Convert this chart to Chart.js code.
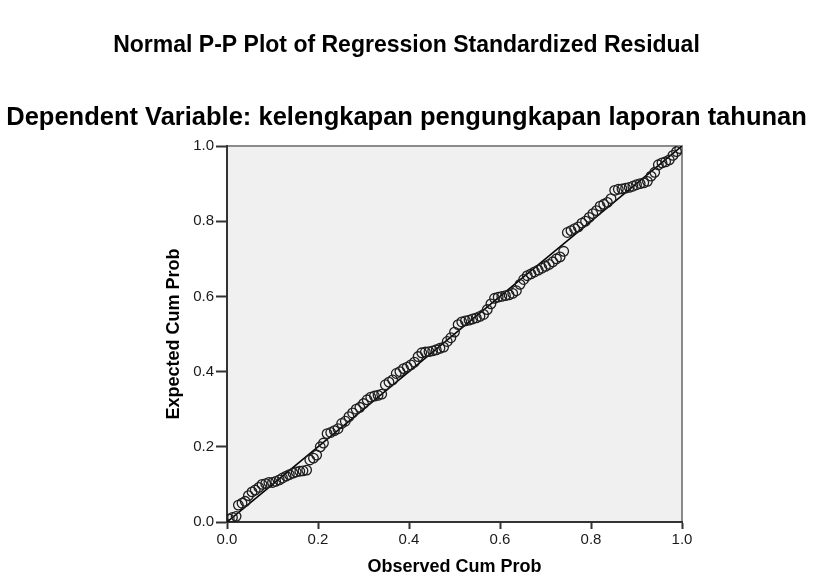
<!DOCTYPE html>
<html>
<head>
<meta charset="utf-8">
<script src="https://cdn.jsdelivr.net/npm/chart.js@4.4.1/dist/chart.umd.min.js"></script>
<style>
    html, body { margin: 0; padding: 0; background: #fff; }
</style>
</head>
<body>
<canvas id="graficoPP" width="813" height="579"></canvas>
<script>
// Observed vs expected cumulative probabilities
const observed = [
    0.005, 0.012, 0.020, 0.025, 0.033, 0.040, 0.047, 0.055, 0.062, 0.070,
    0.077, 0.085, 0.092, 0.100, 0.107, 0.115, 0.122, 0.130, 0.137, 0.145,
    0.152, 0.160, 0.167, 0.175, 0.182, 0.190, 0.197, 0.205, 0.212, 0.220,
    0.228, 0.236, 0.244, 0.252, 0.260, 0.268, 0.276, 0.284, 0.292, 0.300,
    0.308, 0.316, 0.324, 0.332, 0.340, 0.348, 0.356, 0.364, 0.372, 0.380,
    0.388, 0.396, 0.404, 0.412, 0.420, 0.428, 0.436, 0.444, 0.452, 0.460,
    0.468, 0.476, 0.484, 0.492, 0.500, 0.508, 0.516, 0.524, 0.532, 0.540,
    0.548, 0.556, 0.564, 0.572, 0.580, 0.588, 0.596, 0.604, 0.612, 0.620,
    0.628, 0.636, 0.644, 0.652, 0.660, 0.668, 0.676, 0.684, 0.692, 0.700,
    0.708, 0.716, 0.724, 0.732, 0.740, 0.748, 0.756, 0.764, 0.772, 0.780,
    0.788, 0.796, 0.804, 0.812, 0.820, 0.828, 0.836, 0.844, 0.852, 0.860,
    0.868, 0.876, 0.884, 0.892, 0.900, 0.908, 0.916, 0.924, 0.932, 0.940,
    0.948, 0.956, 0.964, 0.972, 0.980, 0.988, 0.995
];
const expected = [
    0.008, 0.012, 0.015, 0.045, 0.050, 0.055, 0.070, 0.080, 0.085, 0.092,
    0.100, 0.102, 0.105, 0.105, 0.108, 0.112, 0.117, 0.122, 0.126, 0.130,
    0.133, 0.135, 0.136, 0.138, 0.165, 0.170, 0.178, 0.200, 0.210, 0.235,
    0.238, 0.243, 0.248, 0.262, 0.268, 0.280, 0.290, 0.300, 0.305, 0.315,
    0.325, 0.332, 0.335, 0.337, 0.340, 0.365, 0.372, 0.378, 0.395, 0.400,
    0.408, 0.412, 0.418, 0.425, 0.440, 0.450, 0.452, 0.453, 0.455, 0.458,
    0.462, 0.465, 0.480, 0.490, 0.505, 0.525, 0.532, 0.535, 0.537, 0.540,
    0.543, 0.547, 0.552, 0.565, 0.580, 0.595, 0.598, 0.600, 0.602, 0.604,
    0.608, 0.615, 0.632, 0.645, 0.655, 0.660, 0.665, 0.670, 0.675, 0.680,
    0.685, 0.692, 0.700, 0.705, 0.720, 0.770, 0.775, 0.780, 0.785, 0.795,
    0.800, 0.810, 0.820, 0.828, 0.840, 0.845, 0.850, 0.860, 0.882, 0.885,
    0.886, 0.888, 0.890, 0.893, 0.897, 0.900, 0.902, 0.906, 0.920, 0.930,
    0.950, 0.955, 0.958, 0.963, 0.975, 0.985, 0.993
];
const diagonal = [0, 1];
const tickValues = [0.0, 0.2, 0.4, 0.6, 0.8, 1.0];

const titulo = 'Normal P-P Plot of Regression Standardized Residual';
const subtitulo = 'Dependent Variable: kelengkapan pengungkapan laporan tahunan';
const tituloX = 'Observed Cum Prob';
const tituloY = 'Expected Cum Prob';

const FUENTE = "'Liberation Sans', Arial, sans-serif";

// gray plot background with a thin frame (left/bottom axes drawn over it)
const fondoPlot = {
    id: 'fondoPlot',
    beforeDraw(chart) {
        const { ctx, chartArea: a } = chart;
        ctx.save();
        ctx.fillStyle = '#f0f0f0';
        ctx.fillRect(a.left, a.top, a.width, a.height);
        ctx.strokeStyle = '#8a8a8a';
        ctx.lineWidth = 2;
        ctx.strokeRect(a.left, a.top, a.width, a.height);
        ctx.restore();
    }
};

// titles centred on the whole canvas (the built-in title box would squeeze the long subtitle)
const titulos = {
    id: 'titulos',
    afterDraw(chart) {
        const { ctx, width } = chart;
        ctx.save();
        ctx.fillStyle = '#000';
        ctx.textAlign = 'center';
        ctx.textBaseline = 'middle';
        ctx.font = `bold 23px ${FUENTE}`;
        ctx.fillText(titulo, width / 2, 46);
        ctx.font = `bold 25.5px ${FUENTE}`;
        ctx.fillText(subtitulo, width / 2, 118);
        ctx.restore();
    }
};

const crearEje = (titleText, tickLen, fitSize, horizontal, titlePad) => ({
    type: 'linear',
    min: 0,
    max: 1,
    afterBuildTicks: (scale) => { scale.ticks = tickValues.map(v => ({ value: v })); },
    afterFit: (scale) => {
        if (horizontal) scale.height = fitSize; else scale.width = fitSize;
    },
    ticks: {
        color: '#1a1a1a',
        font: { family: FUENTE, size: 15 },
        padding: 2,
        callback: (v) => Number(v).toFixed(1)
    },
    grid: {
        drawOnChartArea: false,
        drawTicks: true,
        tickLength: tickLen,
        tickWidth: 2,
        tickColor: '#333'
    },
    border: { display: true, color: '#333', width: 2 },
    title: {
        display: true,
        text: titleText,
        color: '#000',
        font: { family: FUENTE, size: 18, weight: 'bold' },
        padding: titlePad
    }
});

const ctx = document.getElementById('graficoPP').getContext('2d');
new Chart(ctx, {
    data: {
        datasets: [
            {
                type: 'scatter',
                data: observed.map((x, i) => ({ x, y: expected[i] })),
                backgroundColor: 'rgba(0,0,0,0)',
                borderColor: '#1e1e1e',
                borderWidth: 1.3,
                pointRadius: 4.8,
                order: 1
            },
            {
                type: 'line',
                data: diagonal.map(v => ({ x: v, y: v })),
                borderColor: '#000',
                borderWidth: 1.6,
                pointRadius: 0,
                order: 2
            }
        ]
    },
    options: {
        responsive: false,
        animation: false,
        layout: { padding: { left: 150, right: 131, top: 146, bottom: 0 } },
        plugins: {
            legend: { display: false },
            tooltip: { enabled: false },
            title: { display: false },
            subtitle: { display: false }
        },
        scales: {
            x: crearEje(tituloX, 7, 57, true, { top: 4, bottom: 1 }),
            y: crearEje(tituloY, 11, 77, false, { top: 13, bottom: 2 })
        }
    },
    plugins: [fondoPlot, titulos]
});
</script>
</body>
</html>
